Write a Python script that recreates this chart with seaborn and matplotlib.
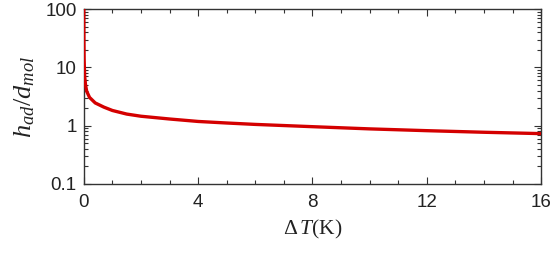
import matplotlib
matplotlib.use("Agg")
import matplotlib.pyplot as plt
import seaborn as sns
import pandas as pd
from matplotlib.ticker import LogLocator, MultipleLocator, FixedLocator

delta_T = [0.0, 0.001, 0.003, 0.01, 0.03, 0.06, 0.1, 0.2, 0.4, 0.7, 1.0, 1.5, 2.0,
           3.0, 4.0, 5.0, 6.0, 8.0, 10.0, 12.0, 14.0, 16.0]
h_ratio = [100, 60, 30, 14, 7.0, 5.0, 3.9, 3.05, 2.45, 2.08, 1.82, 1.58, 1.45,
           1.3, 1.18, 1.11, 1.05, 0.96, 0.88, 0.82, 0.77, 0.73]
x_ticks = [0, 4, 8, 12, 16]
y_ticks = [0.1, 1, 10, 100]
y_tick_labels = ["0.1", "1", "10", "100"]

sns.set_theme(style="ticks")
plt.rcParams['font.family'] = ['Liberation Sans', 'DejaVu Sans']
plt.rcParams['mathtext.fontset'] = 'custom'
plt.rcParams['mathtext.rm'] = 'Liberation Serif'
plt.rcParams['mathtext.it'] = 'Liberation Serif:italic'
plt.rcParams['mathtext.bf'] = 'Liberation Serif:bold'

df = pd.DataFrame({"dT": delta_T, "h": h_ratio})

fig = plt.figure(figsize=(5.55, 2.58), dpi=100)
ax = fig.add_axes([0.151, 0.287, 0.824, 0.678])
sns.lineplot(data=df, x="dT", y="h", ax=ax, color="#d40000", linewidth=2.4, zorder=3)

ax.set_yscale("log")
ax.set_xlim(0, 16)
ax.set_ylim(0.1, 100)
ax.xaxis.set_major_locator(FixedLocator(x_ticks))
ax.xaxis.set_minor_locator(MultipleLocator(1))
ax.yaxis.set_major_locator(FixedLocator(y_ticks))
ax.set_yticklabels(y_tick_labels)
ax.yaxis.set_minor_locator(LogLocator(base=10, subs=range(2, 10)))
ax.yaxis.set_minor_formatter(plt.NullFormatter())

ax.tick_params(which="both", direction="in", top=True, right=True, colors="#333333",
               labelcolor="#222222", labelsize=13.5, width=0.8)
ax.tick_params(which="major", length=5)
ax.tick_params(which="minor", length=3)
ax.tick_params(axis="x", pad=7)
ax.tick_params(axis="y", pad=5)
for s in ax.spines.values():
    s.set_color("#333333")
    s.set_linewidth(1.0)

ax.set_xlabel(r"$\Delta\,T\mathrm{(K)}$", fontsize=15.5, color="#222222", labelpad=5)
ax.set_ylabel(r"$h_{ad}/d_{mol}$", fontsize=19, color="#222222", labelpad=6)

fig.savefig("out.png", dpi=100)
